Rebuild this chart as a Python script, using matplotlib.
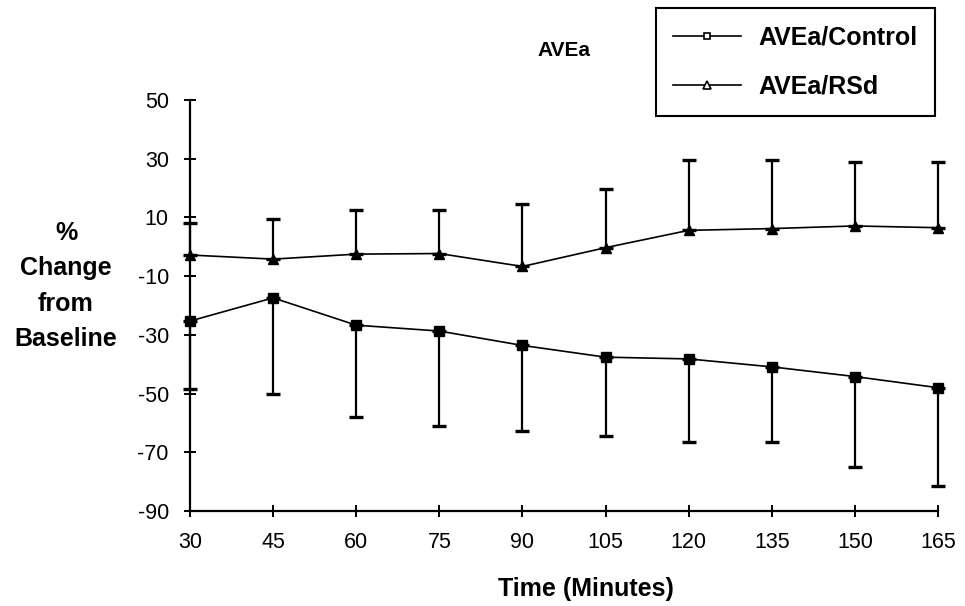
import matplotlib
matplotlib.use('Agg')
import matplotlib.pyplot as plt
from matplotlib import font_manager
from matplotlib.lines import Line2D

plt.rcParams['axes.unicode_minus'] = False

# fonts: narrow for ticks if there, bold arial-ish for labels
names = {f.name for f in font_manager.fontManager.ttflist}
narrow = 'Liberation Sans Narrow' if 'Liberation Sans Narrow' in names else 'Liberation Sans'
bold = 'Liberation Sans'

# data
minutes = [30, 45, 60, 75, 90, 105, 120, 135, 150, 165]
control = [-25.3, -17.4, -26.7, -28.7, -33.6, -37.6, -38.2, -40.9, -44.2, -48.0]
control_low = [-48.5, -50.1, -57.9, -61.2, -62.6, -64.5, -66.6, -66.6, -74.9, -81.5]
rsd = [-2.8, -4.2, -2.5, -2.3, -6.7, -0.3, 5.6, 6.2, 7.1, 6.5]
rsd_high = [8.2, 9.5, 12.7, 12.6, 14.6, 19.8, 29.6, 29.5, 29.0, 28.9]

yticks = [-90, -70, -50, -30, -10, 10, 30, 50]

fig = plt.figure(figsize=(9.65, 6.06), dpi=100)
ax = fig.add_axes([190/965, 1-511/606, 748/965, 411/606])

# one-sided error bars
ctrl_err = [[c - lo for c, lo in zip(control, control_low)], [0]*len(control)]
rsd_err = [[0]*len(rsd), [hi - r for r, hi in zip(rsd, rsd_high)]]

ax.errorbar(minutes, control, yerr=ctrl_err, color='black', lw=1.2, marker='s', ms=6.5,
            elinewidth=1.6, capsize=4.7, capthick=2.4, clip_on=False, zorder=3)
ax.errorbar(minutes, rsd, yerr=rsd_err, color='black', lw=1.2, marker='^', ms=7.5,
            elinewidth=1.6, capsize=4.7, capthick=2.4, clip_on=False, zorder=3)

ax.set_xlim(30, 165)
ax.set_ylim(-90, 50)
ax.set_xticks(minutes)
ax.set_yticks(yticks)
for s in ['top', 'right']:
    ax.spines[s].set_visible(False)
for s in ['left', 'bottom']:
    ax.spines[s].set_linewidth(1.6)
ax.tick_params(direction='inout', length=8.5, width=1.4, pad=11, labelsize=15.5)
for lab in ax.get_xticklabels() + ax.get_yticklabels():
    lab.set_family(narrow)

fig.text(564/965, 1-51/606, 'AVEa', ha='center', va='center', fontsize=15,
         fontweight='bold', family=bold)
fig.text(66/965, 1-286/606, '%\nChange\nfrom\nBaseline', ha='center', va='center',
         fontsize=18, fontweight='bold', family=bold, linespacing=1.6)
fig.text(586/965, 1-589/606, 'Time (Minutes)', ha='center', va='center', fontsize=18,
         fontweight='bold', family=bold)

handles = [Line2D([], [], color='black', lw=1.2, marker='s', ms=5, mfc='white', mew=1.2),
           Line2D([], [], color='black', lw=1.2, marker='^', ms=6, mfc='white', mew=1.2)]
leg = fig.legend(handles, ['AVEa/Control', 'AVEa/RSd'], loc='upper right',
                 bbox_to_anchor=(935/965, 1-8/606), borderaxespad=0, fancybox=False,
                 edgecolor='black', framealpha=1, handlelength=2.7, handletextpad=0.7,
                 labelspacing=1.0, borderpad=0.7,
                 prop={'family': bold, 'weight': 'bold', 'size': 18})
leg.get_frame().set_linewidth(1.5)

fig.savefig('out.png', dpi=100)
